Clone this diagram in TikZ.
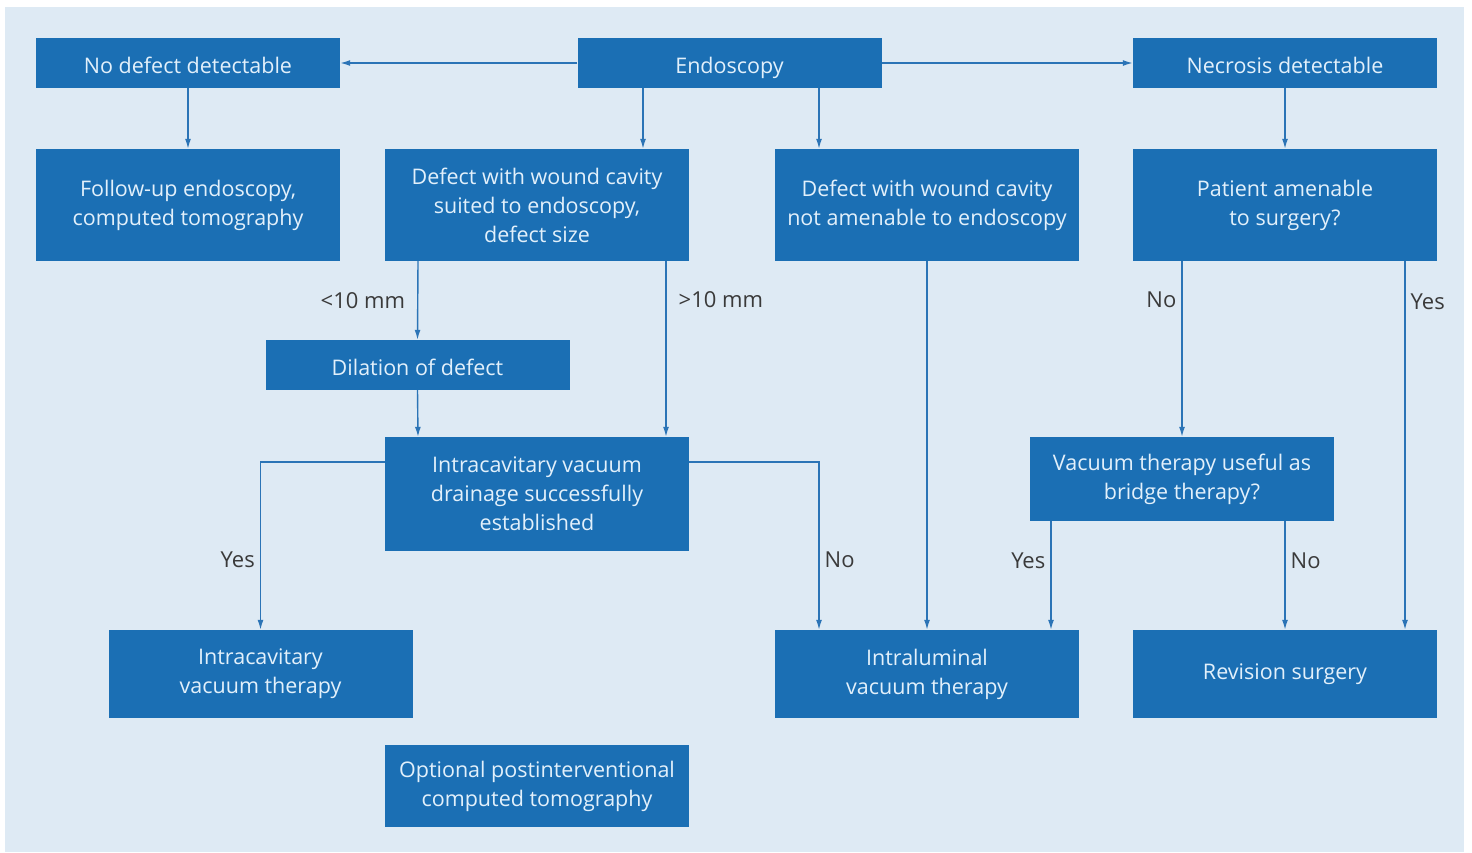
\documentclass[tikz,border=0pt]{standalone}
\usepackage{fontspec}
\setmainfont{Open Sans}
\usetikzlibrary{arrows.meta}
\definecolor{bg}{HTML}{DEEAF4}
\definecolor{boxc}{HTML}{1B6FB4}
\definecolor{linec}{HTML}{2B74B6}
\definecolor{txt}{HTML}{E2F0FB}
\definecolor{lab}{HTML}{3A3A3A}
\begin{document}
\begin{tikzpicture}[x=1pt,y=-1pt,
 box/.style={fill=boxc, text=txt, align=center, inner sep=0pt, minimum width=304pt, font=\fontsize{21.5}{29}\selectfont},
 one/.style={text height=20.6pt, text depth=0pt},
 arr/.style={draw=linec, line width=1.4pt, -{Latex[length=10pt,width=6pt]}},
 lbl/.style={text=lab, font=\fontsize{22}{24}\selectfont, inner sep=5pt},
 far/.style={inner sep=12pt}]
\useasboundingbox (0,0) rectangle (1472,852);
\fill[white] (0,0) rectangle (1472,852);
\fill[bg] (5,7) rectangle (1464,852);

\node[box, one, minimum height=50pt] (nodef) at (188,63) {No defect detectable};
\node[box, one, minimum height=50pt] (endo) at (729.5,63) {Endoscopy};
\node[box, one, minimum height=50pt] (necro) at (1285,63) {Necrosis detectable};
\node[box, minimum height=112pt] (follow) at (188,205) {Follow-up endoscopy,\\computed tomography};
\node[box, minimum height=112pt] (suited) at (537,205) {Defect with wound cavity\\suited to endoscopy,\\defect size};
\node[box, minimum height=112pt] (notam) at (927,205) {Defect with wound cavity\\not amenable to endoscopy};
\node[box, minimum height=112pt] (patient) at (1285,205) {Patient amenable\\to surgery?};
\node[box, one, minimum height=50pt] (dil) at (417.5,365) {Dilation of defect};
\node[box, minimum height=114pt] (drain) at (537,494) {Intracavitary vacuum\\drainage successfully\\established};
\node[box, minimum height=84pt] (bridge) at (1182,479) {Vacuum therapy useful as\\bridge therapy?};
\node[box, minimum height=88pt] (icvt) at (260.5,674) {Intracavitary\\vacuum therapy};
\node[box, minimum height=88pt] (ilvt) at (927,674) {Intraluminal\\vacuum therapy};
\node[box, minimum height=88pt] (rev) at (1285,674) {Revision surgery};
\node[box, minimum height=82pt] (opt) at (537,786) {Optional postinterventional\\computed tomography};

\draw[arr] (endo.west) -- (nodef.east);
\draw[arr] (endo.east) -- (necro.west);
\draw[arr] (nodef.south) -- (follow.north);
\draw[arr] ([xshift=-86.5pt]endo.south) -- ([xshift=106pt]suited.north);
\draw[arr] ([xshift=89.5pt]endo.south) -- ([xshift=-108pt]notam.north);
\draw[arr] (necro.south) -- (patient.north);
\draw[arr] ([xshift=-119pt]suited.south) -- node[lbl, far, left] {<10 mm} (dil.north);
\draw[arr] ([xshift=129pt]suited.south) -- node[lbl, far, right, pos=0.22] {>10 mm} ([xshift=129pt]drain.north);
\draw[arr] (dil.south) -- ([xshift=-119pt]drain.north);
\draw[arr] ([yshift=32pt]drain.west) -| node[lbl, left, pos=0.79] {Yes} (icvt.north);
\draw[arr] ([yshift=32pt]drain.east) -| node[lbl, right, pos=0.79] {No} ([xshift=-108pt]ilvt.north);
\draw[arr] (notam.south) -- (ilvt.north);
\draw[arr] ([xshift=-103pt]patient.south) -- node[lbl, left, pos=0.22] {No} (bridge.north);
\draw[arr] ([xshift=120pt]patient.south) -- node[lbl, right, pos=0.11] {Yes} ([xshift=120pt]rev.north);
\draw[arr] ([xshift=-131pt]bridge.south) -- node[lbl, left, pos=0.36] {Yes} ([xshift=124pt]ilvt.north);
\draw[arr] ([xshift=103pt]bridge.south) -- node[lbl, right, pos=0.36] {No} (rev.north);
\end{tikzpicture}
\end{document}
